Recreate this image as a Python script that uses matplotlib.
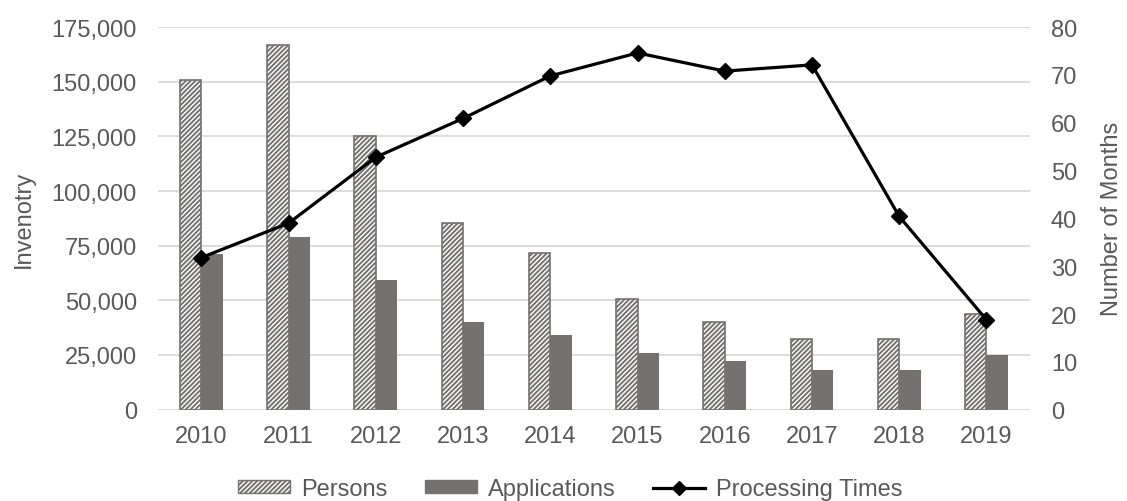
import matplotlib
matplotlib.use('Agg')
import matplotlib.pyplot as plt
import numpy as np
from matplotlib.patches import Patch
from matplotlib.lines import Line2D

plt.rcParams['font.family'] = ['Liberation Sans', 'DejaVu Sans']
plt.rcParams['hatch.linewidth'] = 1.4

# data
years = ['2010', '2011', '2012', '2013', '2014', '2015', '2016', '2017', '2018', '2019']
persons = [150600, 166900, 125300, 85600, 71700, 50600, 40200, 32200, 32200, 43600]
applications = [71200, 78800, 59400, 39900, 34300, 25900, 22400, 18300, 18300, 25000]
processing_months = [31.8, 39.0, 52.8, 60.9, 69.8, 74.6, 70.8, 72.1, 40.4, 18.8]

text_color = '#595959'
bar_gray = '#767171'
grid_color = '#d9d9d9'
fs = 17

fig = plt.figure(figsize=(11.27, 5.02), dpi=100)
ax = fig.add_axes([0.140, 0.182, 0.774, 0.762])
ax2 = ax.twinx()

x = np.arange(len(years))
w = 0.245

ax.bar(x - w / 2, persons, w, color='white', edgecolor=bar_gray, hatch='///////', linewidth=1.2, zorder=2)
ax.bar(x + w / 2, applications, w, color=bar_gray, edgecolor=bar_gray, linewidth=0, zorder=2)

ax2.plot(x, processing_months, color='black', linewidth=2.3, marker='D', markersize=8.5, zorder=3)

ax.set_xlim(-0.5, len(years) - 0.5)
ax.set_ylim(0, 175000)
ax.set_yticks(np.arange(0, 175001, 25000))
ax.set_yticklabels([f'{v:,}' for v in range(0, 175001, 25000)])
ax.set_xticks(x)
ax.set_xticklabels(years)
ax2.set_ylim(0, 80)
ax2.set_yticks(range(0, 81, 10))

ax.yaxis.grid(True, color=grid_color, linewidth=1.3, zorder=0)
ax.set_axisbelow(True)

for a in (ax, ax2):
    for s in a.spines.values():
        s.set_visible(False)
    a.tick_params(length=0, labelsize=fs, colors=text_color)
ax.tick_params(axis='y', pad=15)
ax.tick_params(axis='x', pad=11)
ax2.tick_params(axis='y', pad=15)

ax.set_ylabel('Invenotry', fontsize=fs, color=text_color)
ax.yaxis.set_label_coords(-0.141, 0.5)
ax2.set_ylabel('Number of Months', fontsize=fs, color=text_color)
ax2.yaxis.set_label_coords(1.081, 0.5)

handles = [
    Patch(facecolor='white', edgecolor=bar_gray, hatch='///////', label='Persons'),
    Patch(facecolor=bar_gray, edgecolor=bar_gray, label='Applications'),
    Line2D([0], [0], color='black', linewidth=2.3, marker='D', markersize=7, label='Processing Times'),
]
fig.legend(handles=handles, loc='center', bbox_to_anchor=(0.506, 0.024), ncol=3, frameon=False,
           fontsize=fs, labelcolor=text_color, handlelength=2.2, handleheight=0.47,
           handletextpad=0.45, columnspacing=1.6, borderaxespad=0, borderpad=0)

fig.savefig('out.png', dpi=100)
